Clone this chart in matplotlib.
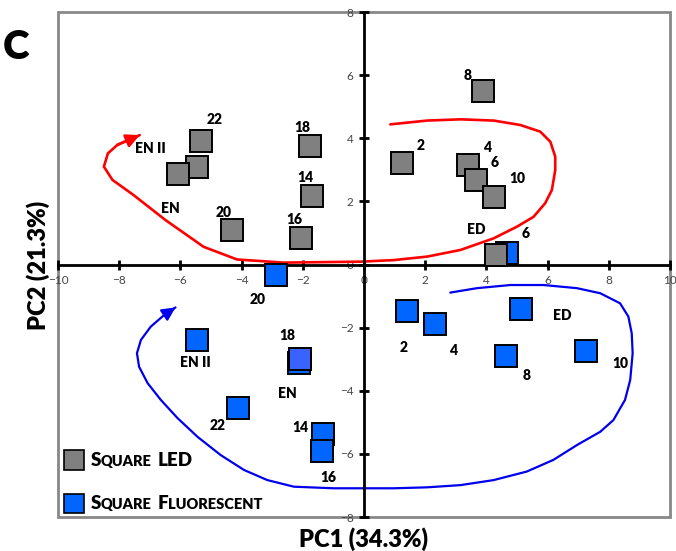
import matplotlib
matplotlib.use('Agg')
import matplotlib.pyplot as plt
from matplotlib.patches import Rectangle
from matplotlib.offsetbox import DrawingArea, TextArea, HPacker, VPacker, AnchoredOffsetbox

plt.rcParams['font.family'] = ['Lato', 'DejaVu Sans']

# PCA scores
led_x = [-5.32, -5.45, -6.07, -4.31, -1.78, -1.69, -2.05, 3.88, 1.25, 3.41, 3.65, 4.25, 4.33]
led_y = [3.92, 3.10, 2.88, 1.08, 3.76, 2.18, 0.85, 5.51, 3.21, 3.15, 2.68, 2.15, 0.30]

fl_x = [-2.89, -5.47, -2.11, -2.08, -4.11, -1.33, -1.38, 1.39, 2.33, 5.12, 4.63, 7.25, 4.66]
fl_y = [-0.33, -2.39, -3.13, -2.99, -4.54, -5.37, -5.90, -1.46, -1.89, -1.41, -2.90, -2.73, 0.37]

led_labels = ['22', 'EN II', 'EN', '20', '18', '14', '16', '8', '2', '4', '6', '10', 'ED', '6']
led_lab_x = [-4.87, -6.99, -6.33, -4.58, -2.01, -1.93, -2.29, 3.38, 1.84, 4.04, 4.27, 5.0, 3.67, 5.27]
led_lab_y = [4.58, 3.68, 1.76, 1.64, 4.35, 2.76, 1.43, 6.0, 3.76, 3.71, 3.24, 2.73, 1.12, 0.97]

fl_labels = ['20', 'EN II', '18', 'EN', '22', '14', '16', '2', '4', 'ED', '8', '10']
fl_lab_x = [-3.48, -5.50, -2.49, -2.49, -4.79, -2.07, -1.15, 1.31, 2.95, 6.48, 5.30, 8.37]
fl_lab_y = [-1.10, -3.10, -2.26, -4.08, -5.11, -5.16, -6.74, -2.62, -2.73, -1.63, -3.52, -3.15]

# hand-drawn trajectory arrows, traced point by point
red_x = [0.86, 2.06, 3.15, 4.24, 5.11, 5.76, 6.09, 6.25, 6.25, 6.14, 5.92, 5.54, 5.0, 4.24,
         3.15, 2.06, 0.97, -0.11, -2.63, -4.15, -5.24, -6.49, -7.53, -8.22, -8.50, -8.37,
         -8.06, -7.33]
red_y = [4.44, 4.56, 4.60, 4.56, 4.42, 4.21, 3.89, 3.42, 2.99, 2.36, 1.94, 1.51, 1.20, 0.83,
         0.46, 0.25, 0.14, 0.09, 0.06, 0.16, 0.56, 1.41, 2.20, 2.68, 3.10, 3.52, 3.79, 4.10]
blue_x = [2.82, 3.69, 4.78, 5.87, 6.96, 7.72, 8.37, 8.64, 8.75, 8.78, 8.70, 8.53, 8.15, 7.72,
          6.96, 6.19, 5.32, 4.24, 3.15, 2.06, 0.97, -0.11, -0.99, -2.29, -3.16, -3.92, -4.68,
          -5.44, -6.09, -6.64, -7.07, -7.35, -7.42, -7.29, -6.97, -6.53, -6.16]
blue_y = [-0.89, -0.75, -0.65, -0.65, -0.75, -0.91, -1.23, -1.65, -2.18, -2.81, -3.66, -4.29,
          -4.93, -5.30, -5.72, -6.19, -6.56, -6.83, -6.99, -7.06, -7.09, -7.09, -7.09, -7.04,
          -6.83, -6.51, -6.04, -5.46, -4.87, -4.29, -3.76, -3.24, -2.81, -2.39, -1.97, -1.60,
          -1.36]

gray = '#808080'
blue = '#0066FF'

fig = plt.figure(figsize=(6.76, 5.51), dpi=100)
ax = fig.add_axes([0.0858, 0.0617, 0.9053, 0.9165])
ax.set_xlim(-10, 10)
ax.set_ylim(-8, 8)

# axes through the origin, grey outer frame
for side in ['top', 'right']:
    ax.spines[side].set_visible(False)
for side in ['left', 'bottom']:
    ax.spines[side].set_position(('data', 0))
    ax.spines[side].set_linewidth(2)
    ax.spines[side].set_color('black')
ax.add_patch(Rectangle((0, 0), 1, 1, transform=ax.transAxes, fill=False,
                       edgecolor='#888888', lw=2, clip_on=False, zorder=0))
ax.set_xticks(range(-10, 11, 2))
ax.set_yticks(range(-8, 9, 2))
ax.tick_params(direction='inout', length=7, width=2, labelsize=8.5,
               labelcolor='#444444', pad=4)

ax.plot(red_x, red_y, color='red', lw=1.9, solid_joinstyle='round', solid_capstyle='round',
        zorder=2)
ax.annotate('', xy=(red_x[-1], red_y[-1]), xytext=(red_x[-2], red_y[-2]),
            arrowprops=dict(arrowstyle='-|>', color='red', lw=1.9, mutation_scale=20,
                            shrinkA=0, shrinkB=0))
ax.plot(blue_x, blue_y, color='#0000EE', lw=1.6, solid_joinstyle='round', solid_capstyle='round',
        zorder=2)
ax.annotate('', xy=(blue_x[-1], blue_y[-1]), xytext=(blue_x[-2], blue_y[-2]),
            arrowprops=dict(arrowstyle='-|>', color='#0000EE', lw=1.6, mutation_scale=20,
                            shrinkA=0, shrinkB=0))

ax.plot(fl_x, fl_y, 's', ms=15.5, mfc=blue, mec='black', mew=1.4, zorder=3)
# the "18" square sits on top of EN, a lighter shade
ax.plot(fl_x[3], fl_y[3], 's', ms=15.5, mfc='#3A62FF', mec='black', mew=1.4, zorder=3.1)
ax.plot(led_x, led_y, 's', ms=15.5, mfc=gray, mec='black', mew=1.4, zorder=4)

for t, x, y in zip(led_labels, led_lab_x, led_lab_y):
    ax.text(x, y, t, fontsize=10, fontweight='heavy', ha='center', va='center', zorder=5)
for t, x, y in zip(fl_labels, fl_lab_x, fl_lab_y):
    ax.text(x, y, t, fontsize=10, fontweight='heavy', ha='center', va='center', zorder=5)


def small_caps(words, big=13.5, small=10.5):
    boxes = []
    for w in words:
        if w.isupper():
            parts = [TextArea(w, textprops=dict(fontsize=big, fontweight='heavy'))]
        else:
            parts = [TextArea(w[0], textprops=dict(fontsize=big, fontweight='heavy')),
                     TextArea(w[1:].upper(), textprops=dict(fontsize=small, fontweight='heavy'))]
        boxes.append(HPacker(children=parts, align='baseline', pad=0, sep=0))
    return HPacker(children=boxes, align='baseline', pad=0, sep=4)


def swatch(color):
    da = DrawingArea(14, 14, 0, 0)
    da.add_artist(Rectangle((0, 0), 14, 14, facecolor=color, edgecolor='black', lw=1.2))
    return da


rows = []
for color, words in [(gray, ['Square', 'LED']), (blue, ['Square', 'Fluorescent'])]:
    rows.append(HPacker(children=[swatch(color), small_caps(words)], align='center', pad=0, sep=5))
leg = VPacker(children=rows, align='left', pad=0, sep=17)
ax.add_artist(AnchoredOffsetbox(loc='lower left', child=leg, pad=0, borderpad=0, frameon=False,
                                bbox_to_anchor=(0.01, 0.008), bbox_transform=ax.transAxes))

fig.text(0.537, 0.022, 'PC1 (34.3%)', fontsize=17, fontweight='heavy', ha='center', va='center')
fig.text(0.056, 0.519, 'PC2 (21.3%)', fontsize=17, fontweight='heavy', ha='center', va='center',
         rotation=90)
fig.text(0.024, 0.913, 'C', fontsize=29, fontweight='heavy', ha='center', va='center')

fig.savefig('out.png', dpi=100)
